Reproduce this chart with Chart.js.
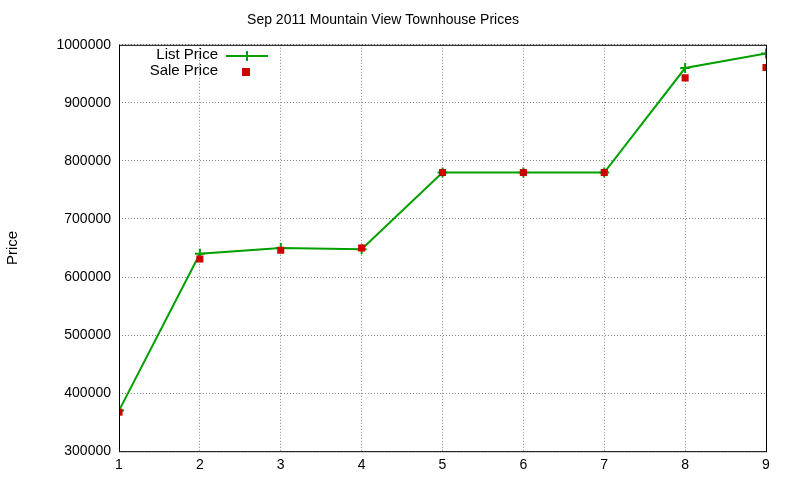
<!DOCTYPE html>
<html><head><meta charset="utf-8">
<script src="https://cdn.jsdelivr.net/npm/chart.js@4/dist/chart.umd.min.js"></script>
<style>html,body{margin:0;background:#fff}#w{width:800px;height:480px}</style>
</head><body><div id="w"><canvas id="c"></canvas></div>
<script>
const categories = [1,2,3,4,5,6,7,8,9];
const listPrice = [370000,640000,650000,648000,780000,780000,780000,960000,985000];
const salePrice = [367000,631000,646000,650000,780000,780000,780000,943000,961000];
const yTicks = [300000,400000,500000,600000,700000,800000,900000,1000000];

const legendPlugin = {
  id:'gleg',
  afterDraw(ch){
    const c=ch.ctx; c.save();
    c.font='15px "Liberation Sans", Arial'; c.fillStyle='#000'; c.textAlign='right'; c.textBaseline='middle';
    c.fillText('List Price',218,55); c.fillText('Sale Price',218,71);
    c.strokeStyle='#00a000'; c.lineWidth=2;
    c.beginPath(); c.moveTo(226,56); c.lineTo(268,56); c.stroke();
    c.beginPath(); c.moveTo(247,51); c.lineTo(247,61); c.moveTo(242,56); c.lineTo(252,56); c.stroke();
    c.fillStyle='#cc0000'; c.fillRect(242,68,8,8);
    c.restore();
  }
};
const borderPlugin = {
  id:'bord',
  afterDatasetsDraw(ch){
    const a=ch.chartArea,c=ch.ctx; c.save(); c.strokeStyle='#000'; c.lineWidth=1;
    c.strokeRect(a.left+0.5,a.top+0.5,a.right-a.left,a.bottom-a.top); c.restore();
  }
};
new Chart(document.getElementById('c'),{
  type:'line',
  data:{datasets:[
    {label:'List Price',order:2,data:categories.map((x,i)=>({x,y:listPrice[i]})),borderColor:'#00a000',borderWidth:2,
     pointStyle:'cross',pointRadius:5,pointBorderWidth:2,pointBorderColor:'#00a000',tension:0},
    {label:'Sale Price',order:1,data:categories.map((x,i)=>({x,y:salePrice[i]})),showLine:false,
     pointStyle:'rect',pointRadius:5,backgroundColor:'#cc0000',borderColor:'#cc0000',borderWidth:0}
  ]},
  options:{
    responsive:true,maintainAspectRatio:false,animation:false,
    layout:{padding:{top:2,right:34,bottom:0,left:0}},
    plugins:{legend:{display:false},tooltip:{enabled:false},
      title:{display:true,text:'Sep 2011 Mountain View Townhouse Prices',color:'#000',
        font:{family:'"Liberation Sans", Arial',size:14,weight:'normal'},padding:{top:10,bottom:16}}},
    scales:{
      x:{type:'linear',min:1,max:9,afterBuildTicks(s){s.ticks=categories.map(v=>({value:v}));},
        grid:{color:'#888',drawTicks:false},border:{display:false,dash:[1,2]},
        ticks:{color:'#000',padding:6,font:{family:'"Liberation Sans", Arial',size:14}}},
      y:{min:300000,max:1000000,afterBuildTicks(s){s.ticks=yTicks.map(v=>({value:v}));},
        afterFit(s){s.width=119;},
        grid:{color:'#888',drawTicks:false},border:{display:false,dash:[1,2]},
        title:{display:true,text:'Price',color:'#000',font:{family:'"Liberation Sans", Arial',size:15},padding:{bottom:20}},
        ticks:{color:'#000',padding:8,callback:v=>String(v),font:{family:'"Liberation Sans", Arial',size:14}}}
    }
  },
  plugins:[legendPlugin,borderPlugin]
});
</script></body></html>
